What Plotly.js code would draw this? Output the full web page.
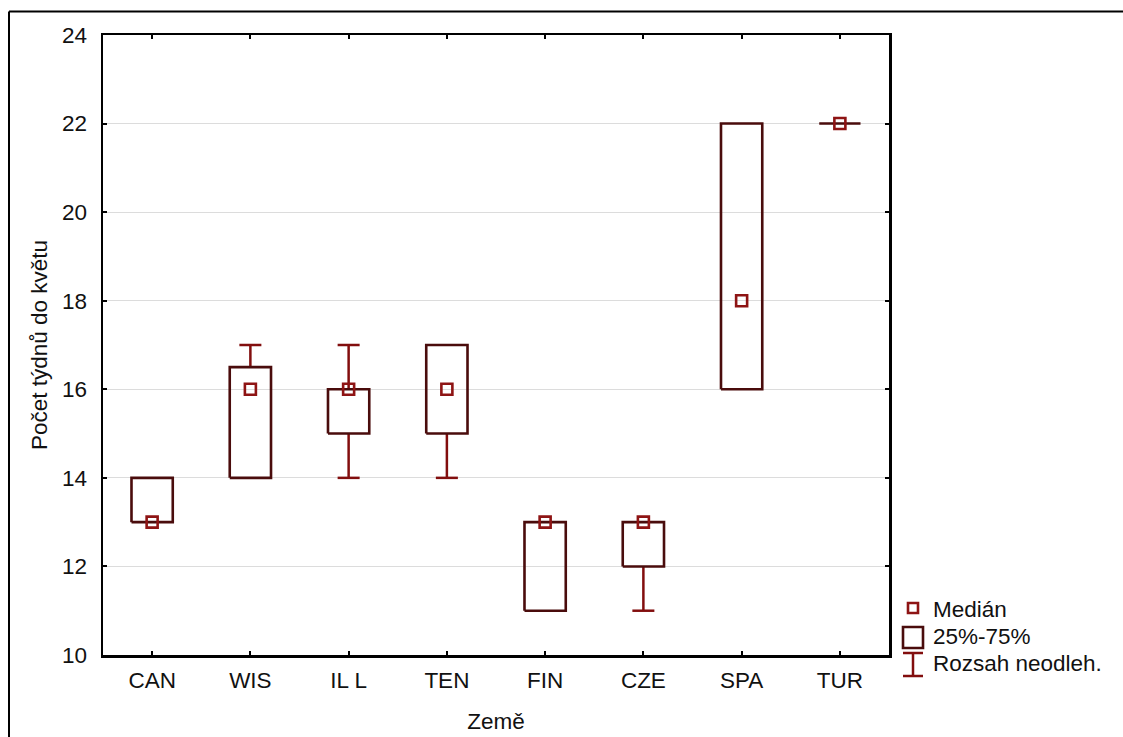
<!DOCTYPE html>
<html>
<head>
<meta charset="utf-8">
<script src="https://cdn.plot.ly/plotly-3.0.1.min.js"></script>
<style>html,body{margin:0;padding:0;background:#fff;}#chart{width:1123px;height:737px;}</style>
</head>
<body>
<div id="chart"></div>
<script>
// ---- data ----
const categories = ['CAN', 'WIS', 'IL L', 'TEN', 'FIN', 'CZE', 'SPA', 'TUR'];
const medians = [13, 16, 16, 16, 13, 13, 18, 22];
const q1 = [13, 14, 15, 15, 11, 12, 16, 22];
const q3 = [14, 16.5, 16, 17, 13, 13, 22, 22];
const mins = [13, 14, 14, 14, 11, 11, 16, 22];
const maxs = [14, 17, 17, 17, 13, 13, 22, 22];
const yTicks = [10, 12, 14, 16, 18, 20, 22, 24];
const legendLabels = ['Medián', '25%-75%', 'Rozsah neodleh.'];

// ---- styles ----
const W = 1123, H = 737;
const M = {l: 103, r: 234, t: 35, b: 82};
const boxColor = '#4a0c0c';
const whiskColor = '#820e0e';
const medColor = '#8e1414';
const BOXHW = 0.21, CAPHW = 0.112;
const FONT = 'Liberation Sans, Arial, sans-serif';
const FS = 22.5;

const idx = categories.map((_, i) => i);

// boxes
const bx = [], by = [];
idx.forEach(i => {
  bx.push(i - BOXHW, i + BOXHW, i + BOXHW, i - BOXHW, i - BOXHW, null);
  by.push(q1[i], q1[i], q3[i], q3[i], q1[i], null);
});
// whiskers
const wx = [], wy = [];
idx.forEach(i => {
  if (maxs[i] > q3[i]) {
    wx.push(i, i, null, i - CAPHW, i + CAPHW, null);
    wy.push(q3[i], maxs[i], null, maxs[i], maxs[i], null);
  }
  if (mins[i] < q1[i]) {
    wx.push(i, i, null, i - CAPHW, i + CAPHW, null);
    wy.push(q1[i], mins[i], null, mins[i], mins[i], null);
  }
});

const traces = [
  {x: wx, y: wy, type: 'scatter', mode: 'lines', line: {color: whiskColor, width: 2.5}, hoverinfo: 'skip', showlegend: false},
  {x: bx, y: by, type: 'scatter', mode: 'lines', line: {color: boxColor, width: 2.6}, hoverinfo: 'skip', showlegend: false},
  {x: idx, y: medians, type: 'scatter', mode: 'markers', marker: {symbol: 'square-open', size: 11, color: medColor, line: {width: 2.6, color: medColor}}, showlegend: false}
];

// pixel -> paper helpers
const pw = W - M.l - M.r, ph = H - M.t - M.b;
const PX = x => (x - M.l) / pw;
const PY = y => (H - M.b - y) / ph;

const shapes = [
  // outer frame
  {type: 'line', xref: 'paper', yref: 'paper', x0: PX(9), x1: PX(1130), y0: PY(11.5), y1: PY(11.5), line: {color: '#000', width: 2}},
  {type: 'line', xref: 'paper', yref: 'paper', x0: PX(9), x1: PX(9), y0: PY(11.5), y1: PY(745), line: {color: '#000', width: 2}},
  // legend symbols
  {type: 'rect', xref: 'paper', yref: 'paper', x0: PX(908), x1: PX(918), y0: PY(613), y1: PY(603), line: {color: medColor, width: 2.6}},
  {type: 'rect', xref: 'paper', yref: 'paper', x0: PX(903), x1: PX(923), y0: PY(648), y1: PY(627), line: {color: boxColor, width: 2.6}},
  {type: 'line', xref: 'paper', yref: 'paper', x0: PX(913), x1: PX(913), y0: PY(676), y1: PY(653), line: {color: whiskColor, width: 2.5}},
  {type: 'line', xref: 'paper', yref: 'paper', x0: PX(903), x1: PX(923), y0: PY(653), y1: PY(653), line: {color: whiskColor, width: 2.5}},
  {type: 'line', xref: 'paper', yref: 'paper', x0: PX(903), x1: PX(923), y0: PY(676), y1: PY(676), line: {color: whiskColor, width: 2.5}}
];

const legY = [609, 636, 664];
const annotations = legendLabels.map((t, i) => ({
  text: t, xref: 'paper', yref: 'paper', x: PX(931), y: PY(legY[i]), xanchor: 'left', yanchor: 'middle',
  showarrow: false, font: {family: FONT, size: FS, color: '#111'}
}));

const layout = {
  width: W, height: H,
  margin: M,
  paper_bgcolor: '#fff', plot_bgcolor: '#fff',
  font: {family: FONT, size: FS, color: '#111'},
  showlegend: false,
  xaxis: {
    range: [-0.5, categories.length - 0.5],
    tickvals: idx, ticktext: categories,
    ticks: 'inside', ticklen: 4, tickwidth: 2, tickcolor: '#000',
    showline: true, linecolor: '#000', linewidth: 2.5, mirror: 'allticks',
    showgrid: false, zeroline: false,
    ticklabelstandoff: 3,
    tickfont: {family: FONT, size: FS, color: '#111'},
    title: {text: 'Země', font: {family: FONT, size: FS, color: '#111'}, standoff: 22}
  },
  yaxis: {
    range: [10, 24],
    tickvals: yTicks, ticktext: yTicks.map(String),
    ticks: 'inside', ticklen: 4, tickwidth: 2, tickcolor: '#000',
    showline: true, linecolor: '#000', linewidth: 2.5, mirror: 'allticks',
    showgrid: true, gridcolor: '#dcdcdc', gridwidth: 1, zeroline: false,
    ticklabelstandoff: 9,
    tickfont: {family: FONT, size: FS, color: '#111'},
    title: {text: 'Počet týdnů do květu', font: {family: FONT, size: FS, color: '#111'}, standoff: 8}
  },
  shapes: shapes,
  annotations: annotations
};

Plotly.newPlot('chart', traces, layout, {staticPlot: true, displayModeBar: false});
</script>
</body>
</html>
